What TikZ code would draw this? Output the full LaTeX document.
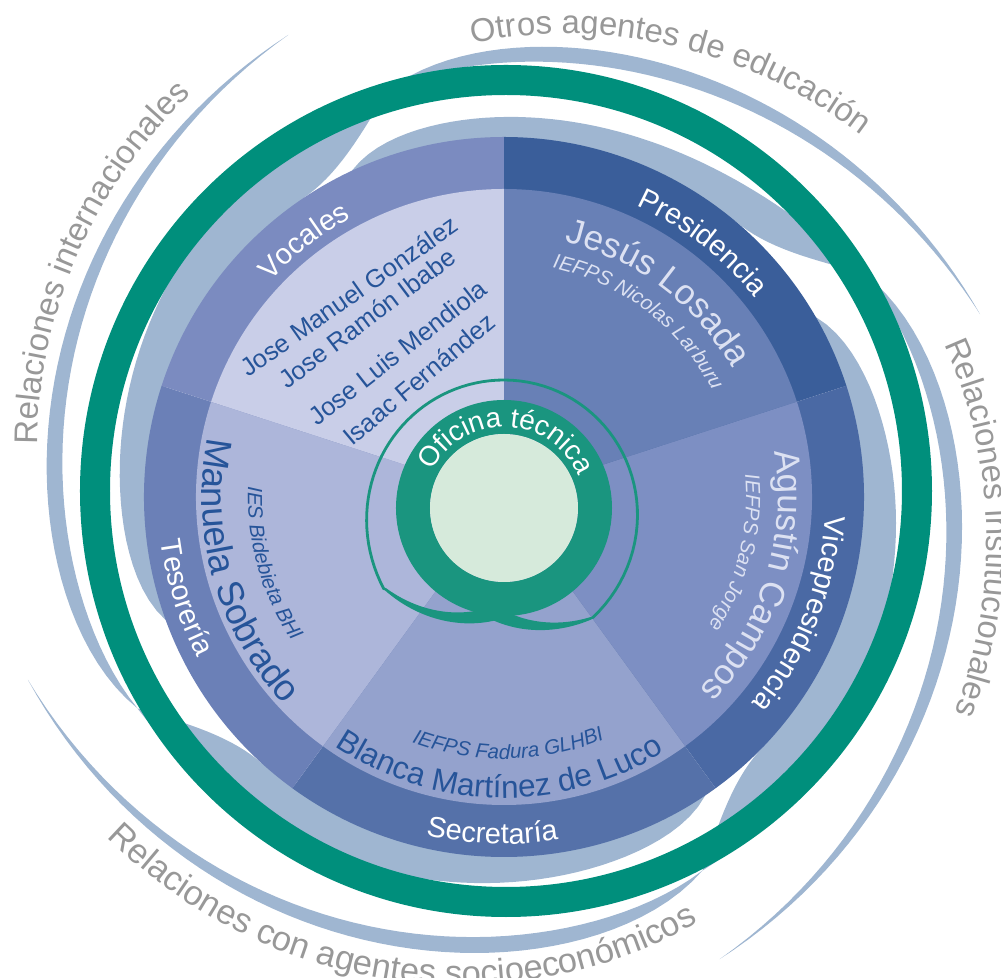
\documentclass[tikz,border=0pt]{standalone}
\usepackage{fontspec}
\setmainfont{Liberation Sans}
\usetikzlibrary{decorations.text}

\definecolor{swirlblue}{HTML}{9FB6D1}
\definecolor{ringgreen}{HTML}{008F7C}
\definecolor{coregreen}{HTML}{1A957F}
\definecolor{corefill}{HTML}{D6EADB}
\definecolor{labelgray}{HTML}{989898}
\definecolor{namedark}{HTML}{265499}
\definecolor{namelight}{HTML}{DCE1F2}
\definecolor{presband}{HTML}{3A5E9A}
\definecolor{presin}{HTML}{6880B6}
\definecolor{viceband}{HTML}{4A69A4}
\definecolor{vicein}{HTML}{7D8FC3}
\definecolor{secband}{HTML}{5571A9}
\definecolor{secin}{HTML}{94A2CD}
\definecolor{tesband}{HTML}{6B80B7}
\definecolor{tesin}{HTML}{ADB6DA}
\definecolor{vocband}{HTML}{7B8BC0}
\definecolor{vocin}{HTML}{C9CEE8}

\newcommand\outerfont{\color{labelgray}\fontsize{23.4}{28}\selectfont}
\newcommand\rolefont{\color{white}\fontsize{20.6}{24}\selectfont}
\newcommand\bigname{\fontsize{24.9}{30}\selectfont}
\newcommand\schoolfont{\itshape\fontsize{14.6}{17}\selectfont}

\tikzset{
  vocname/.style={text=namedark, font=\fontsize{18.1}{22}\selectfont, inner sep=0pt, anchor=base west},
}

% text on a circular arc round the current origin: (start:end:radius){text};
\def\arclabel(#1:#2:#3)#4;{\path[decorate,decoration={text along path,text align=center,text={#4}}] (#1:#3) arc[start angle=#1,end angle=#2,radius=#3];}
% text on a widening spiral: (start angle:end angle)(start radius:end radius){text};
\def\spirallabel(#1:#2)(#3:#4)#5;{\path[decorate,decoration={text along path,text align=center,text={#5}}] plot[variable=\q,domain=#1:#2,samples=60] (\q:{#3+(#4-#3)*(\q-#1)/(#2-#1)});}
% tapering green tail of the core ring: (from angle:to angle)(end radius);
\def\coretail(#1:#2)(#3);{\fill[coregreen] plot[variable=\q,domain=#1:#2,samples=30] (\q:{103+(#3-103)*(\q-#1)/(#2-#1)+1.2+7*(1-(\q-#1)/(#2-#1))})
  -- plot[variable=\q,domain=#2:#1,samples=30] (\q:{103+(#3-103)*(\q-#1)/(#2-#1)-1.2-7*(1-(\q-#1)/(#2-#1))}) -- cycle;}

\begin{document}
\begin{tikzpicture}[x=0.025cm,y=0.025cm]
  %%%%% START %%%%%
  \useasboundingbox (-504,-481) rectangle (497,497);

  % swirl arms: leaves the ring at \e, tail \s degrees long, starts \a degrees before
  \foreach \e/\s/\a/\k in {210/95/94/2, 106/85/94/1.5, 32/97/83/4, -62/97/92/1.2} {
    \fill[swirlblue] plot[variable=\p,domain=\a:18,samples=30] ({\e+\p}:355)
      -- plot[variable=\p,domain=18:0,samples=16] ({\e+\p}:{360+63*((18-\p)/18)*((18-\p)/18)})
      -- plot[variable=\p,domain=0:-\s,samples=50] ({\e+\p}:{433-10*exp(\p/8)+77*(\p/\s)*(\p/\s)})
      -- plot[variable=\p,domain=-\s:0,samples=50] ({\e+\p}:{452-29*exp(\p/10)+58*(\p/\s)*(\p/\s)})
      -- plot[variable=\p,domain=0:\a,samples=50] ({\e+\p}:{380-20*exp((\p-\a)/6)+43*((\a-\p)/\a+0.001)^\k})
      -- cycle;
  }

  % pie
  \foreach \a/\b/\bandcol/\incol in {18/90/presband/presin, -54/18/viceband/vicein, -126/-54/secband/secin, 162/234/tesband/tesin, 90/162/vocband/vocin} {
    \fill[\bandcol] (0,0) -- (\a:360) arc[start angle=\a,end angle=\b,radius=360] -- cycle;
    \fill[\incol] (0,0) -- (\a:308) arc[start angle=\a,end angle=\b,radius=308] -- cycle;
  }

  % big ring
  \draw[ringgreen, line width=0.75cm] (2,6) circle (411);

  % centre
  \begin{scope}[shift={(0,-11)}]
    \draw[coregreen, line width=0.07cm, line cap=round] plot[variable=\q,domain=214:90,samples=40] (\q:{128+0.0011*(\q-90)*(\q-90)})
      -- plot[variable=\q,domain=90:-51,samples=40] (\q:{128+0.00065*(\q-90)*(\q-90)});
    \coretail(268:214)(144);
    \coretail(262:309)(141);
    \draw[coregreen, line width=0.85cm] (0,0) circle (91);
    \fill[corefill] (0,0) circle (74);
    \arclabel(165:11:81){|\color{white}\fontsize{19.9}{24}\selectfont|Oficina técnica};
  \end{scope}

  % roles
  \arclabel(92:12:320){|\rolefont|Presidencia};
  \arclabel(18.5:-61.5:322){|\rolefont|Vicepresidencia};
  \arclabel(-132:-52:347){|\rolefont|Secretaría};
  \arclabel(157.5:237.5:346){|\rolefont|Tesorería};
  \arclabel(168:88:318){|\rolefont|Vocales};

  % names
  \arclabel(93:13:262){|\color{namelight}\bigname|Jesús Losada};
  \arclabel(97.5:7.5:234){|\color{namelight}\schoolfont|IEFPS Nicolas Larburu};
  \arclabel(22.5:-57.5:274){|\color{namelight}\bigname|Agustín Campos};
  \arclabel(26.5:-53.5:242){|\color{namelight}\schoolfont|IEFPS San Jorge};
  \arclabel(-141:-41:301){|\color{namedark}\fontsize{22.4}{27}\selectfont|Blanca Martínez de Luco};
  \arclabel(-139:-39:262){|\color{namedark}\schoolfont|IEFPS Fadura GLHBI};
  \arclabel(146:246:302){|\color{namedark}\fontsize{26}{31}\selectfont|Manuela Sobrado};
  \arclabel(151:241:256){|\color{namedark}\schoolfont|IES Bidebieta BHI};

  \node[vocname, rotate=35] (gonzalez) at (-256,119) {Jose Manuel González};
  \node[vocname, rotate=37] (ibabe) at (-217,107) {Jose Ramón Ibabe};
  \node[vocname, rotate=38] (mendiola) at (-187,70) {Jose Luis Mendiola};
  \node[vocname, rotate=40] (fernandez) at (-152,50) {Isaac Fernández};

  % outer relations
  \spirallabel(180:122)(464:515){|\outerfont|Relaciones internacionales};
  \spirallabel(100:40)(448:514){|\outerfont|Otros agentes de educación};
  \spirallabel(25:-31)(462:504){|\outerfont|Relaciones institucionales};
  \spirallabel(214:302)(528:462){|\outerfont\fontsize{24.5}{29}\selectfont|Relaciones con agentes socioeconómicos};
  %%%%% END %%%%%
\end{tikzpicture}
\end{document}
